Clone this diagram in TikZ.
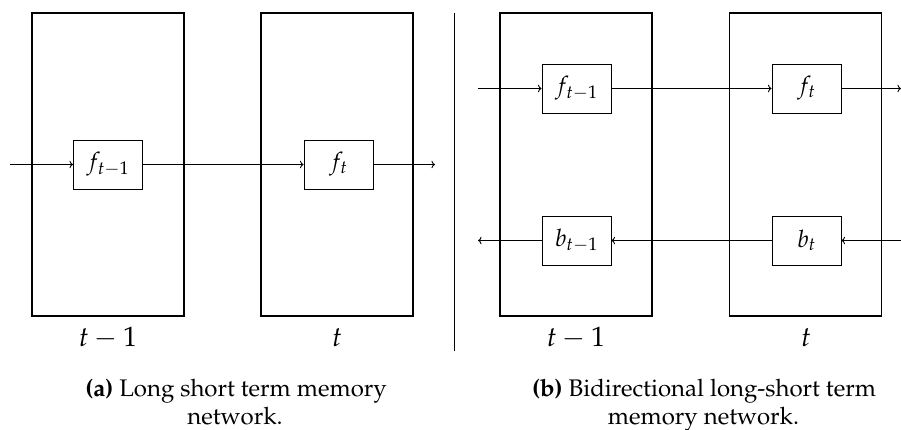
\documentclass[tikz,border=0pt]{standalone}
\usepackage[T1]{fontenc}
\usepackage{mathpazo}
\usetikzlibrary{arrows.meta}
\begin{document}
\begin{tikzpicture}[x=1pt,y=-1pt,
  outerbox/.style={draw,line width=1.8pt,minimum width=152pt,minimum height=303pt,inner sep=0pt},
  cell/.style={draw,line width=0.9pt,minimum width=69pt,minimum height=49pt,inner sep=0pt,font=\fontsize{24}{29}\selectfont},
  conn/.style={line width=0.9pt,->},
  lbl/.style={font=\fontsize{28}{34}\selectfont,inner sep=0pt,anchor=base},
  captext/.style={font=\fontsize{24}{29}\selectfont,inner sep=0pt,anchor=base}]
\useasboundingbox (0,0) rectangle (901,429);
% ---- panel (a)
\node[outerbox] (A1) at (108,164.5) {};
\node[outerbox] (A2) at (337,164.5) {};
\node[cell] (fa1) at (108,164.5) {$f_{t-1}$};
\node[cell] (fa2) at (338.5,164.5) {$f_t$};
\coordinate (ina) at (10,164.5);
\coordinate (outa) at (435,164.5);
\draw[conn] (ina) -- (fa1);
\draw[conn] (fa1) -- (fa2);
\draw[conn] (fa2) -- (outa);
\node[lbl] (la1) at (108,346) {$t-1$};
\node[lbl] (la2) at (337,346) {$t$};
\node[captext] (capa1) at (236,396) {\textbf{(a)} Long short term memory};
\node[captext] (capa2) at (235,424) {network.};
% ---- divider
\coordinate (d1) at (454,13);
\coordinate (d2) at (454,351);
\draw[line width=0.9pt] (d1) -- (d2);
% ---- panel (b)
\node[outerbox] (B1) at (576,164.5) {};
\node[outerbox] (B2) at (805.5,164.5) {};
\node[cell] (fb1) at (576.5,88.5) {$f_{t-1}$};
\node[cell] (fb2) at (806.5,88.5) {$f_t$};
\node[cell] (bb1) at (576.5,240.5) {$b_{t-1}$};
\node[cell] (bb2) at (806.5,240.5) {$b_t$};
\coordinate (inb) at (478,88.5);
\coordinate (outb) at (901,88.5);
\coordinate (inbb) at (901,240.5);
\coordinate (outbb) at (478,240.5);
\draw[conn] (inb) -- (fb1);
\draw[conn] (fb1) -- (fb2);
\draw[conn] (fb2) -- (outb);
\draw[conn] (inbb) -- (bb2);
\draw[conn] (bb2) -- (bb1);
\draw[conn] (bb1) -- (outbb);
\node[lbl] (lb1) at (576,346) {$t-1$};
\node[lbl] (lb2) at (806,346) {$t$};
\node[captext] (capb1) at (704,396) {\textbf{(b)} Bidirectional long-short term};
\node[captext] (capb2) at (703.5,424) {memory network.};
\end{tikzpicture}
\end{document}
